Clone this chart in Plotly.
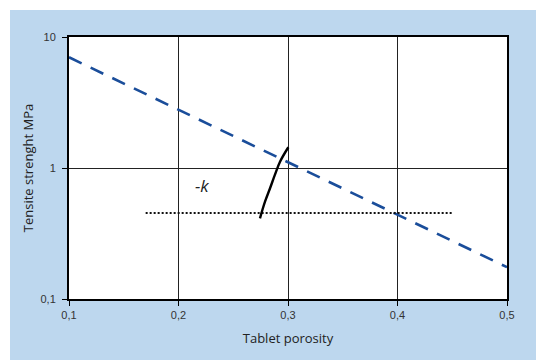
import math
import plotly.graph_objects as go

# Fitted strength–porosity trend (dashed)
trend_porosity = [0.1, 0.5]
trend_strength = [7.0, 0.175]

# Measured compaction curve (solid)
curve_porosity = [0.2744, 0.279, 0.2836, 0.288, 0.2927, 0.3003]
curve_strength = [0.413, 0.553, 0.700, 0.885, 1.117, 1.44]

# Reference level (dotted)
level_porosity = [0.17, 0.451]
level_strength = [0.453, 0.453]

# Annotation
label_text = "-k"
label_pos = (0.221, 0.74)

x_ticks = [0.1, 0.2, 0.3, 0.4, 0.5]
y_ticks = [0.1, 1, 10]
y_ticktext = ["0,1", "1", "10"]

BLUE_BG = "#bdd7ee"

fig = go.Figure()
fig.add_trace(go.Scatter(
    x=trend_porosity, y=trend_strength, mode="lines",
    line=dict(color="#1a4d9a", width=2.6, dash="14px,10px"),
))
fig.add_trace(go.Scatter(
    x=level_porosity, y=level_strength, mode="lines",
    line=dict(color="#111111", width=2, dash="2px,2px"),
))
fig.add_trace(go.Scatter(
    x=curve_porosity, y=curve_strength, mode="lines",
    line=dict(color="black", width=2.4, shape="spline"),
))

# annotation positions on a log axis are given in log10 units
fig.add_annotation(
    x=label_pos[0], y=math.log10(label_pos[1]), xref="x", yref="y",
    text="<i>" + label_text + "</i>", showarrow=False,
    font=dict(family="Open Sans", size=17, color="#222222"),
)

# white margin strips at top and left of the page
fig.add_shape(type="rect", xref="paper", yref="paper",
              x0=-0.2, x1=1.2, y0=(299 - 10) / 262, y1=1.2,
              fillcolor="white", line=dict(width=0), layer="below")
fig.add_shape(type="rect", xref="paper", yref="paper",
              x0=-0.2, x1=(10 - 69) / 438, y0=-0.3, y1=1.2,
              fillcolor="white", line=dict(width=0), layer="below")

axis_font = dict(family="Liberation Sans", size=11, color="#333333")
title_font = dict(family="Open Sans", size=13, color="#222222")

fig.update_layout(
    width=536, height=360,
    margin=dict(l=69, r=29, t=37, b=61),
    paper_bgcolor=BLUE_BG, plot_bgcolor="white",
    showlegend=False,
    separators=",.",
    xaxis=dict(
        range=[0.1, 0.5], tickvals=x_ticks, tickformat=".1f",
        showline=True, linecolor="black", linewidth=2, mirror=True,
        showgrid=True, gridcolor="#222222", gridwidth=1,
        ticks="outside", ticklen=5, tickcolor="black",
        tickfont=axis_font, zeroline=False,
        title=dict(text="Tablet porosity", font=title_font, standoff=14),
    ),
    yaxis=dict(
        type="log", range=[-1, 1], tickvals=y_ticks, ticktext=y_ticktext,
        showline=True, linecolor="black", linewidth=2, mirror=True,
        showgrid=True, gridcolor="#222222", gridwidth=1,
        ticks="outside", ticklen=5, tickcolor="black",
        ticklabelstandoff=4,
        tickfont=axis_font, zeroline=False,
        title=dict(text="Tensite strenght MPa", font=title_font, standoff=4),
    ),
)

fig.write_html("out.html")
